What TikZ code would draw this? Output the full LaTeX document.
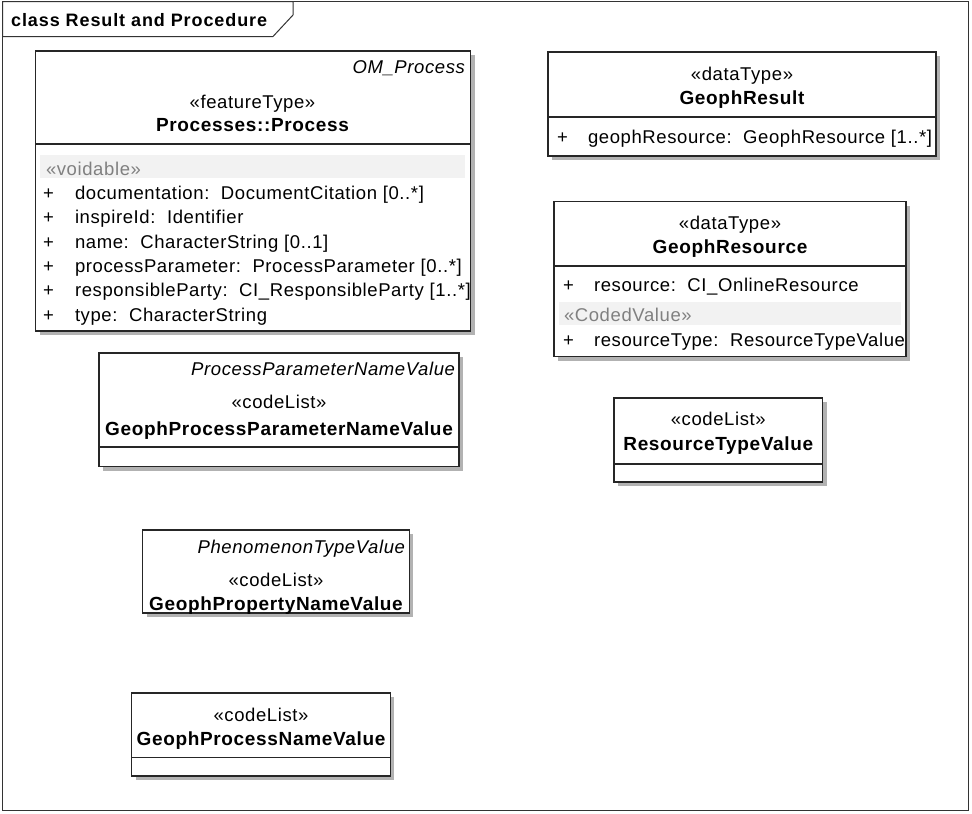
\documentclass[tikz,border=0pt]{standalone}
\usepackage{fontspec}
\setmainfont{Liberation Sans}
\newfontfamily\umlfont[LetterSpace=3.3]{Liberation Sans}
\newfontfamily\umlbold[LetterSpace=3.5]{Liberation Sans Bold}
\newfontfamily\umltitle[LetterSpace=5]{Liberation Sans Bold}
\usetikzlibrary{shadows}
\definecolor{bandgray}{RGB}{242,242,242}
\definecolor{stgray}{RGB}{128,128,128}
\tikzset{
  umlbox/.style={draw=black!85, line width=1.3pt, fill=white, anchor=north west,
    inner sep=0pt, outer sep=0pt,
    drop shadow={shadow xshift=4pt, shadow yshift=-4pt, fill=black!30, opacity=1}},
  txt/.style={inner sep=0pt, outer sep=0pt, font=\fontsize{18.5}{22}\umlfont},
  ital/.style={txt, anchor=base east, font=\fontsize{18.5}{22}\umlfont\itshape},
  stereo/.style={txt, anchor=base},
  cname/.style={inner sep=0pt, outer sep=0pt, anchor=base, font=\fontsize{19}{22}\umlbold},
  attr/.style={txt, anchor=base west},
  plus/.style={txt, anchor=base west},
  band/.style={fill=bandgray, draw=none, anchor=north west, inner sep=0pt, outer sep=0pt},
  voidtxt/.style={txt, anchor=base west, text=stgray},
  divider/.style={draw=black!85, line width=1.2pt}
}
\begin{document}
\begin{tikzpicture}[x=1pt, y=-1pt]
\useasboundingbox (0,0) rectangle (972,814);
% frame
\draw[black!80, line width=1pt] (2.5,1.5) rectangle (968.5,810);
\draw[black!80, line width=1pt, fill=white] (2.5,1.5) -- (293,1.5) -- (293,15) -- (273,36.5) -- (2.5,36.5) -- cycle;
\node[inner sep=0pt, anchor=base west, font=\fontsize{18}{22}\umltitle] (title) at (11,26) {class Result and Procedure};

% Processes::Process
\node[umlbox, minimum width=435pt, minimum height=280pt] (proc) at (35.5,51) {};
\draw[divider] (proc.west |- 0,144) -- (proc.east |- 0,144);
\node[ital] (procsup) at (465,73) {OM\_Process};
\node[stereo] (procst) at (252.5,108) {«featureType»};
\node[cname] (procname) at (252.5,131.7) {Processes::Process};
\node[band, minimum width=425pt, minimum height=23pt] (procband) at (40,155) {};
\node[voidtxt] (procvoid) at (46,175) {«voidable»};
\foreach \yy/\tt [count=\i] in {199.3/{documentation:\ \ DocumentCitation [0..*]},
  223.6/{inspireId:\ \ Identifier},
  248/{name:\ \ CharacterString [0..1]},
  272.3/{processParameter:\ \ ProcessParameter [0..*]},
  296.6/{responsibleParty:\ \ CI\_ResponsibleParty [1..*]},
  321/{type:\ \ CharacterString}}{
  \node[plus] (procp\i) at (43,\yy) {+};
  \node[attr] (proca\i) at (75,\yy) {\tt};
}

% GeophResult
\node[umlbox, minimum width=388pt, minimum height=104pt] (gres) at (548,52) {};
\draw[divider] (gres.west |- 0,117) -- (gres.east |- 0,117);
\node[stereo] (gresst) at (742,80) {«dataType»};
\node[cname] (gresname) at (742,104.3) {GeophResult};
\node[plus] (gresp) at (557,143) {+};
\node[attr] (gresa) at (588,143) {geophResource:\ \ GeophResource [1..*]};

% GeophResource
\node[umlbox, minimum width=352pt, minimum height=155pt] (gsrc) at (554,201.5) {};
\draw[divider] (gsrc.west |- 0,266) -- (gsrc.east |- 0,266);
\node[stereo] (gsrcst) at (730,229) {«dataType»};
\node[cname] (gsrcname) at (730,253) {GeophResource};
\node[plus] (gsrcp1) at (563,291) {+};
\node[attr] (gsrca1) at (594,291) {resource:\ \ CI\_OnlineResource};
\node[band, minimum width=342pt, minimum height=23pt] (gsrcband) at (559,302) {};
\node[voidtxt] (gsrcvoid) at (564,321.7) {«CodedValue»};
\node[plus] (gsrcp2) at (563,346) {+};
\node[attr] (gsrca2) at (594,346) {resourceType:\ \ ResourceTypeValue};

% GeophProcessParameterNameValue
\node[umlbox, minimum width=360pt, minimum height=113.5pt] (gppnv) at (99,353) {};
\draw[divider] (gppnv.west |- 0,447) -- (gppnv.east |- 0,447);
\node[ital] (gppnvsup) at (455,375.7) {ProcessParameterNameValue};
\node[stereo] (gppnvst) at (279,408) {«codeList»};
\node[cname] (gppnvname) at (279,435) {GeophProcessParameterNameValue};

% ResourceTypeValue
\node[umlbox, minimum width=208.5pt, minimum height=84pt] (rtv) at (614,398) {};
\draw[divider] (rtv.west |- 0,464) -- (rtv.east |- 0,464);
\node[stereo] (rtvst) at (718.3,425) {«codeList»};
\node[cname] (rtvname) at (718.3,450) {ResourceTypeValue};

% GeophPropertyNameValue
\node[umlbox, minimum width=266.5pt, minimum height=83pt] (gprnv) at (142.7,530) {};
\node[ital] (gprnvsup) at (405,553) {PhenomenonTypeValue};
\node[stereo] (gprnvst) at (276,586) {«codeList»};
\node[cname] (gprnvname) at (276,610.7) {GeophPropertyNameValue};

% GeophProcessNameValue
\node[umlbox, minimum width=258.5pt, minimum height=83pt] (gpnv) at (131.7,693) {};
\draw[divider] (gpnv.west |- 0,757.7) -- (gpnv.east |- 0,757.7);
\node[stereo] (gpnvst) at (261,721.7) {«codeList»};
\node[cname] (gpnvname) at (261,745) {GeophProcessNameValue};
\end{tikzpicture}
\end{document}
